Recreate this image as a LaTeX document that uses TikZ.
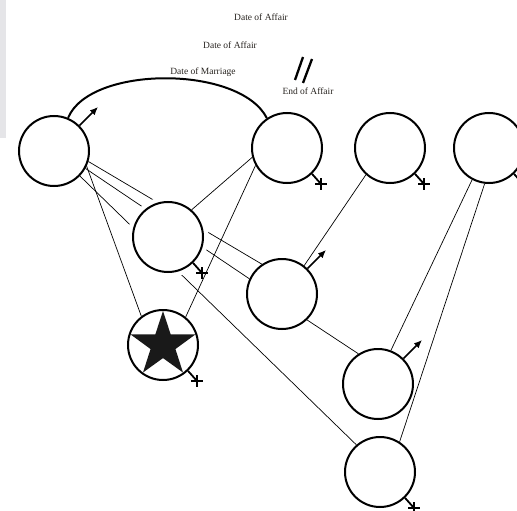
\documentclass[tikz,border=0pt]{standalone}
\usepackage{fontspec}
\setmainfont{Liberation Serif}
\usepackage{tikz}
\usetikzlibrary{arrows.meta,calc,shapes.geometric}
\definecolor{sheet}{RGB}{229,229,232}
\definecolor{inkgray}{RGB}{40,36,32}
\newcommand{\malemark}[1]{\draw[malearrow] (#1.45) -- ($(#1)+(44,-44)$);}
\newcommand{\femalemark}[1]{%
  \draw[femalestem] (#1.-46.6) -- ($(#1)+(34,36)$);
  \draw[femalecross] ($(#1)+(28,36)$) -- ++(12,0);
  \draw[femalecross] ($(#1)+(34,30)$) -- ++(0,12);}

\begin{document}
\begin{tikzpicture}[x=1pt,y=-1pt]
  \tikzset{person/.style={draw,circle,line width=2pt,fill=white,minimum size=70pt,inner sep=0pt}}
  \tikzset{behind/.style={person,preaction={draw=white,line width=11pt}}}
  \tikzset{tie/.style={line width=0.7pt}}
  \tikzset{marriage/.style={line width=2pt}}
  \tikzset{cut/.style={line width=2.3pt}}
  \tikzset{malearrow/.style={-{Latex[length=8pt,width=7pt]},line width=1.6pt}}
  \tikzset{femalestem/.style={line width=1.8pt}}
  \tikzset{femalecross/.style={line width=2.8pt}}
  \tikzset{note/.style={font=\fontsize{9.5}{10}\selectfont,text=inkgray,inner sep=0pt}}
  \useasboundingbox (0,0) rectangle (517,511);
  \fill[sheet] (0,0) rectangle (6,138);
  % top row
  \node[person] (A) at (54,151) {};
  \node[person] (B) at (287,148) {};
  \node[person] (C) at (390,148) {};
  \node[person] (D) at (489,148) {};
  % lower people
  \node[person] (F) at (282,294) {};
  \node[person] (G) at (163,345) {};
  \node[person] (H) at (378,384) {};
  \node[person] (I) at (380,472) {};
  \node[star,star points=5,star point ratio=2.6,fill=black!90,minimum size=68pt,inner sep=0pt] (Gstar) at (G) {};
  % lines running under E
  \draw[tie] (A.-17) -- (F.124);
  \draw[tie] (A.-29) -- (F.155);
  \draw[tie] (A.-44) -- (I.131);
  \node[behind] (E) at (168,237) {};
  % other ties
  \draw[tie] (A.-25) -- (G.127);
  \draw[tie] (B.195) -- (E.49);
  \draw[tie] (B.209) -- (G.51);
  \draw[tie] (C.228) -- (F.52);
  \draw[tie] (F.-46) -- (H.123);
  \draw[tie] (D.242) -- (H.69);
  \draw[tie] (D.263) -- (I.57);
  % marriage and affairs
  \draw[marriage] (A.67) .. controls (90,65) and (240,65) .. (B.124);
  \draw[cut] (303,57) -- (295,80);
  \draw[cut] (312,59) -- (303,83);
  \node[note] (affairtwo) at (261,17) {Date of Affair};
  \node[note] (affairone) at (230,45) {Date of Affair};
  \node[note] (married) at (203,72) {Date of Marriage};
  \node[note] (affairend) at (308,91) {End of Affair};
  % sex markers
  \malemark{A}
  \malemark{F}
  \malemark{H}
  \femalemark{B}
  \femalemark{C}
  \femalemark{D}
  \femalemark{E}
  \femalemark{G}
  \femalemark{I}
\end{tikzpicture}
\end{document}
